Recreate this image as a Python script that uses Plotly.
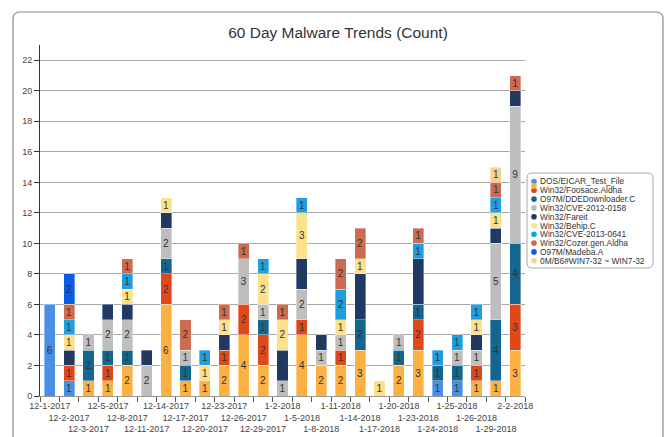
import plotly.graph_objects as go

dates = ["12-1-2017", "12-2-2017", "12-3-2017", "12-5-2017", "12-8-2017", "12-11-2017",
         "12-14-2017", "12-17-2017", "12-20-2017", "12-23-2017", "12-26-2017", "12-29-2017",
         "1-2-2018", "1-5-2018", "1-8-2018", "1-11-2018", "1-14-2018", "1-17-2018",
         "1-20-2018", "1-23-2018", "1-24-2018", "1-25-2018", "1-26-2018", "1-29-2018", "2-2-2018"]

eicar    = [6, 1, 0, 0, 0, 0, 0, 0, 0, 0, 0, 0, 0, 0, 0, 0, 0, 0, 0, 0, 1, 1, 0, 0, 0]
unnamed  = [0, 0, 1, 1, 2, 0, 6, 1, 1, 2, 4, 2, 0, 4, 2, 2, 3, 0, 2, 3, 0, 0, 1, 1, 3]
foosace  = [0, 1, 0, 1, 0, 0, 2, 0, 0, 1, 2, 2, 0, 1, 0, 1, 0, 0, 0, 2, 0, 0, 1, 0, 3]
ddedown  = [0, 0, 2, 1, 1, 0, 1, 1, 0, 0, 0, 1, 0, 0, 0, 0, 2, 0, 1, 1, 1, 1, 0, 4, 4]
cve2012  = [0, 0, 1, 2, 2, 2, 2, 1, 0, 0, 3, 1, 1, 2, 1, 1, 0, 0, 1, 0, 0, 1, 1, 5, 9]
fareit   = [0, 1, 0, 1, 1, 1, 1, 0, 0, 1, 0, 0, 2, 2, 1, 0, 3, 0, 0, 3, 0, 0, 1, 1, 1]
behip    = [0, 1, 0, 0, 1, 0, 1, 0, 1, 1, 0, 2, 2, 3, 0, 1, 1, 1, 0, 0, 0, 0, 1, 1, 0]
cve2013  = [0, 1, 0, 0, 1, 0, 0, 0, 1, 0, 0, 1, 0, 1, 0, 2, 0, 0, 0, 1, 1, 1, 1, 1, 0]
cozer    = [0, 1, 0, 0, 1, 0, 0, 2, 0, 1, 1, 0, 1, 0, 0, 2, 2, 0, 0, 1, 0, 0, 0, 1, 1]
madeba   = [0, 2, 0, 0, 0, 0, 0, 0, 0, 0, 0, 0, 0, 0, 0, 0, 0, 0, 0, 0, 0, 0, 0, 0, 0]
win7     = [0, 0, 0, 0, 0, 0, 0, 0, 0, 0, 0, 0, 0, 0, 0, 0, 0, 0, 0, 0, 0, 0, 0, 1, 0]

series_names = ["DOS/EICAR_Test_File", "", "Win32/Foosace.Aldha", "O97M/DDEDownloader.C",
                "Win32/CVE-2012-0158", "Win32/Fareit", "Win32/Behip.C", "Win32/CVE-2013-0641",
                "Win32/Cozer.gen.Aldha", "O97M/Madeba.A", "0M/B6#WIN7-32 ~ WIN7-32"]
series_values = [eicar, unnamed, foosace, ddedown, cve2012, fareit, behip, cve2013, cozer, madeba, win7]
series_colors = ["#4a8fe6", "#fbb144", "#e0481a", "#13668f", "#bebebe", "#1f3a66",
                 "#fde18a", "#1f9fe0", "#cc6b4f", "#0a5ce4", "#f5d38f"]

y_ticks = list(range(0, 23, 2))
title_text = "60 Day Malware Trends (Count)"

FONT = "Liberation Sans, Arial, sans-serif"

fig = go.Figure()
for name, vals, col in zip(series_names, series_values, series_colors):
    v = [x if x else None for x in vals]
    fig.add_trace(go.Bar(
        x=dates, y=v, name=name, marker=dict(color=col, line=dict(color="rgba(255,255,255,0.6)", width=0.6)),
        text=[str(x) if x else "" for x in vals], textposition="inside", insidetextanchor="middle",
        textangle=0, constraintext="none",
        textfont=dict(size=10, color="#333333", family=FONT), showlegend=False,
    ))

# plot area geometry (pixels)
W, H = 667, 437
ML, MR, MT, MB = 40, 142, 45, 41
PW, PH = W - ML - MR, H - MT - MB


def xp(px):
    return (px - ML) / PW


def yp(py):
    return (H - MB - py) / PH


shapes = []
# outer frame (rounded top corners)
L, R, T, B = xp(13), xp(663), yp(12), yp(460)
rx, ry = 7 / PW, 7 / PH
shapes.append(dict(type="path", xref="paper", yref="paper",
                   path=f"M {L},{B} L {L},{T-ry} Q {L},{T} {L+rx},{T} L {R-rx},{T} Q {R},{T} {R},{T-ry} L {R},{B}",
                   line=dict(color="#8a8a8a", width=1.2), layer="below"))

# legend box
lL, lR, lT, lB = xp(527), xp(653), yp(173), yp(268)
rx, ry = 5 / PW, 5 / PH
shapes.append(dict(type="path", xref="paper", yref="paper",
                   path=(f"M {lL+rx},{lT} L {lR-rx},{lT} Q {lR},{lT} {lR},{lT-ry} L {lR},{lB+ry} Q {lR},{lB} {lR-rx},{lB} "
                         f"L {lL+rx},{lB} Q {lL},{lB} {lL},{lB+ry} L {lL},{lT-ry} Q {lL},{lT} {lL+rx},{lT} Z"),
                   line=dict(color="#a8a8a8", width=1), fillcolor="white"))

annotations = []
item_y = 181.5
step = 8.8
dot_r = 2.8
legend_order = [0, 2, 3, 4, 5, 6, 7, 8, 9, 10]
for k, idx in enumerate(legend_order):
    py = item_y + k * step
    shapes.append(dict(type="circle", xref="paper", yref="paper",
                       x0=xp(534 - dot_r), x1=xp(534 + dot_r), y0=yp(py + dot_r), y1=yp(py - dot_r),
                       fillcolor=series_colors[idx], line=dict(width=0)))
    annotations.append(dict(x=xp(539), y=yp(py), xref="paper", yref="paper", text=series_names[idx],
                            showarrow=False, xanchor="left", yanchor="middle", borderpad=0,
                            font=dict(size=8.4, color="#333333", family=FONT)))
# the unnamed series' marker sits between the first two entries
py = item_y + step * 0.5
shapes.append(dict(type="circle", xref="paper", yref="paper",
                   x0=xp(534 - dot_r), x1=xp(534 + dot_r), y0=yp(py + dot_r), y1=yp(py - dot_r),
                   fillcolor=series_colors[1], line=dict(width=0)))

ticktext = [("<br>" * (i % 3)) + d for i, d in enumerate(dates)]

fig.update_layout(
    width=W, height=H, barmode="stack", bargap=0.43,
    margin=dict(l=ML, r=MR, t=MT, b=MB),
    paper_bgcolor="white", plot_bgcolor="white",
    font=dict(family=FONT, color="#444444"),
    title=dict(text=title_text, x=338 / W, xref="container", xanchor="center",
               y=1 - 33 / H, yref="container", yanchor="middle",
               font=dict(size=15.5, color="#333333", family=FONT)),
    xaxis=dict(tickmode="array", tickvals=dates, ticktext=ticktext, tickangle=0,
               tickfont=dict(size=9, color="#444444", family=FONT),
               ticks="outside", tickson="boundaries", ticklen=5, tickcolor="#555555",
               ticklabelstandoff=1,
               showline=True, linecolor="#999999", linewidth=1, showgrid=False, automargin=False),
    yaxis=dict(range=[0, 23], tickvals=y_ticks, tickfont=dict(size=9, color="#444444", family=FONT),
               ticks="outside", ticklen=5, tickcolor="#333333", automargin=False,
               showline=True, linecolor="#333333", linewidth=1,
               showgrid=True, gridcolor="#a8a8a8", gridwidth=1, zeroline=False),
    shapes=shapes, annotations=annotations,
)

fig.write_html("out.html", config={"displayModeBar": False},
               post_script="document.body.style.margin='0';document.body.style.overflow='hidden';")
